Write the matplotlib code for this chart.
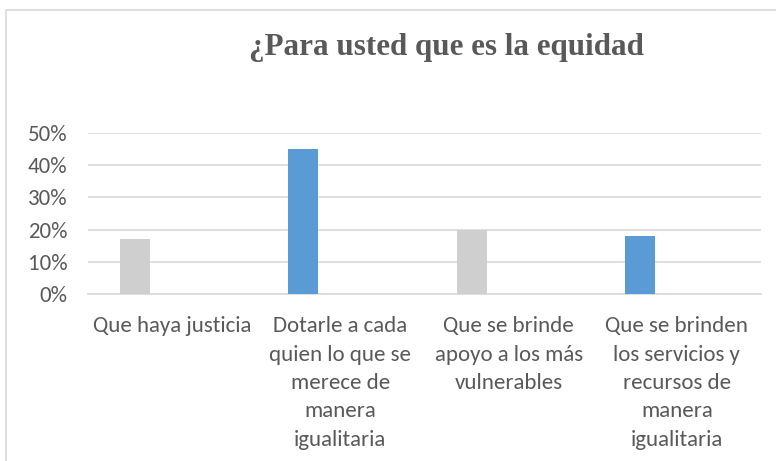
import matplotlib
matplotlib.use("Agg")
import matplotlib.pyplot as plt
from matplotlib.patches import Rectangle
from matplotlib.ticker import PercentFormatter
import numpy as np

# datos
categorias = [
    "Que haya justicia",
    "Dotarle a cada\nquien lo que se\nmerece de\nmanera\nigualitaria",
    "Que se brinde\napoyo a los más\nvulnerables",
    "Que se brinden\nlos servicios y\nrecursos de\nmanera\nigualitaria",
]
valores = [0.17, 0.45, 0.20, 0.18]
colores = ["#D0CFD0", "#5B9BD5", "#D0CFD0", "#5B9BD5"]
yticks = [0, 0.1, 0.2, 0.3, 0.4, 0.5]

plt.rcParams["font.family"] = ["Carlito", "Lato", "DejaVu Sans"]

fig = plt.figure(figsize=(7.76, 4.61), dpi=100)
ax = fig.add_axes([88 / 776, 1 - 294 / 461, (761 - 88) / 776, (294 - 133) / 461])

x = np.arange(len(categorias))
ax.bar(x - 0.22, valores, width=0.178, color=colores, zorder=3)

ax.set_xlim(-0.5, len(categorias) - 0.5)
ax.set_ylim(0, 0.5)
ax.set_yticks(yticks)
ax.yaxis.set_major_formatter(PercentFormatter(1.0, decimals=0))
ax.set_xticks(x)
ax.set_xticklabels(categorias, linespacing=1.52)
ax.grid(axis="y", color="#D9D9D9", linewidth=1.2, zorder=0)
ax.tick_params(length=0, labelsize=16.5, colors="#595959")
ax.tick_params(axis="x", pad=16)
ax.tick_params(axis="y", pad=15)
for s in ["top", "right", "left"]:
    ax.spines[s].set_visible(False)
ax.spines["bottom"].set_color("#D9D9D9")
ax.spines["bottom"].set_linewidth(1.2)

fig.text(446 / 776, 1 - 48 / 461, "¿Para usted que es la equidad",
         family="Liberation Serif", weight="bold", fontsize=22.4,
         color="#595959", ha="center", va="center")

# borde del area del grafico
fig.patches.append(Rectangle((6 / 776, -0.1), 1.0, 1 - 10 / 461 + 0.1,
                             transform=fig.transFigure, fill=False,
                             edgecolor="#D9D9D9", linewidth=1.2))

fig.savefig("out.png", dpi=100)
